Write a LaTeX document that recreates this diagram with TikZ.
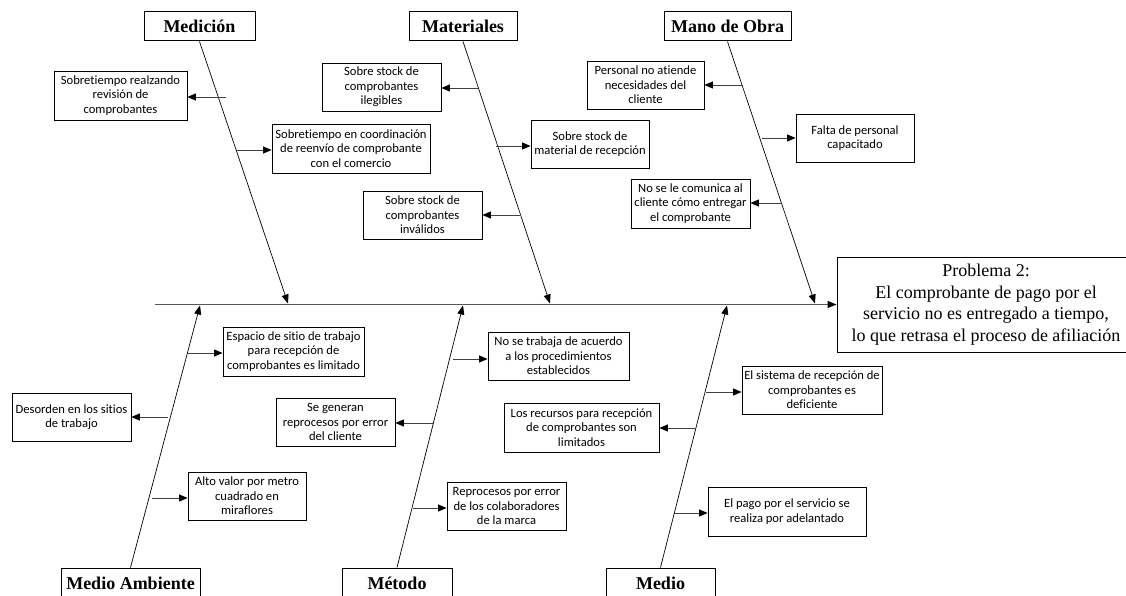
\documentclass[tikz,border=0pt]{standalone}
\usepackage{fontspec}
\setmainfont{Liberation Serif}
\newfontfamily\calfont[Ligatures=NoCommon]{Carlito}
\usetikzlibrary{arrows.meta}

\tikzset{
  cause/.style={draw, line width=0.8pt, inner sep=0pt, align=center,
    font=\calfont\fontsize{12.6}{14.5}\selectfont},
  category/.style={draw, line width=1pt, inner sep=0pt, align=center,
    font=\bfseries\fontsize{18}{20}\selectfont},
  effect/.style={draw, line width=1pt, inner sep=0pt, align=center,
    font=\fontsize{18}{21.5}\selectfont},
  bone/.style={line width=0.7pt, -{Triangle[length=9pt,width=7pt]}},
  spineline/.style={draw=black!65, line width=1.1pt, -{Triangle[length=9pt,width=7pt,color=black]}},
  twig/.style={draw=black!75, line width=0.9pt, -{Triangle[length=8.5pt,width=7pt,color=black]}},
}

% box node spanning the corners (x1,y1) and (x2,y2)
\newcommand\spanbox[7]{%
  \node[#1, minimum width={(#5-#3)*1pt}, minimum height={(#6-#4)*1pt}]
    (#2) at ({(#3+#5)/2},{(#4+#6)/2}) {#7};}

\begin{document}
\begin{tikzpicture}[x=1pt,y=-1pt]
\useasboundingbox (0,0) rectangle (1126,596);

% effect box (runs past the right edge of the page)
\spanbox{effect}{prob}{837}{257}{1135}{352}{Problema 2:\\El comprobante de pago por el\\servicio no es entregado a tiempo,\\ lo que retrasa el proceso de afiliación}

% spine
\coordinate (tail) at (155,304.5);
\draw[spineline] (tail) -- (tail -| prob.west);

% category boxes
\spanbox{category}{med1}{144}{12}{255}{41}{Medición}
\spanbox{category}{mat}{409}{12}{517}{41}{Materiales}
\spanbox{category}{mo}{664}{12}{791}{41}{Mano de Obra}
\spanbox{category}{amb}{61}{568}{200}{598}{\raisebox{-1pt}{Medio Ambiente}}
\spanbox{category}{met}{342}{568}{452}{598}{\raisebox{-1pt}{Método}}
\spanbox{category}{medio}{606}{568}{715}{598}{\raisebox{-1pt}{Medio}}

% points where the bones meet the spine
\coordinate (s1) at (288,303.5);
\coordinate (s2) at (550,303.5);
\coordinate (s3) at (815,303.5);
\coordinate (s4) at (200,305.5);
\coordinate (s5) at (463,305.5);
\coordinate (s6) at (727,305.5);

\draw[bone] (med1.south) -- (s1);
\draw[bone] (mat.south) -- (s2);
\draw[bone] (mo.south) -- (s3);
\draw[bone] (amb.north) -- (s4);
\draw[bone] (met.north) -- (s5);
\draw[bone] (medio.north) -- (s6);

% cause boxes
\spanbox{cause}{c1}{54}{71}{187}{120}{Sobretiempo realzando\\revisión de\\comprobantes}
\spanbox{cause}{c2}{272}{124}{430}{173}{Sobretiempo en coordinación\\de reenvío de comprobante\\con el comercio}
\spanbox{cause}{c3}{322}{63}{441}{111}{Sobre stock de\\comprobantes\\ilegibles}
\spanbox{cause}{c4}{531}{120}{649}{168}{Sobre stock de\\material de recepción}
\spanbox{cause}{c5}{363}{191}{482}{239}{Sobre stock de\\comprobantes\\inválidos}
\spanbox{cause}{c6}{587}{61}{704}{109}{Personal no atiende\\necesidades del\\cliente}
\spanbox{cause}{c7}{796}{114}{914}{162}{Falta de personal\\capacitado}
\spanbox{cause}{c8}{631}{179}{750}{228}{No se le comunica al\\cliente cómo entregar\\el comprobante}
\spanbox{cause}{c9}{223}{327}{364}{376}{Espacio de sitio de trabajo\\para recepción de\\comprobantes es limitado}
\spanbox{cause}{c10}{12}{393}{131}{441}{Desorden en los sitios\\de trabajo}
\spanbox{cause}{c11}{188}{472}{306}{520}{Alto valor por metro\\cuadrado en\\miraflores}
\spanbox{cause}{c12}{488}{332}{629}{380}{No se trabaja de acuerdo\\a los procedimientos\\establecidos}
\spanbox{cause}{c13}{276}{398}{395}{446}{Se generan\\reprocesos por error\\del cliente}
\spanbox{cause}{c14}{447}{482}{566}{530}{Reprocesos por error\\de los colaboradores\\de la marca}
\spanbox{cause}{c15}{742}{366}{882}{414}{El sistema de recepción de\\comprobantes es\\deficiente}
\spanbox{cause}{c16}{504}{403}{659}{452}{Los recursos para recepción\\de comprobantes son\\limitados}
\spanbox{cause}{c17}{708}{487}{866}{536}{El pago por el servicio se\\realiza por adelantado}

% twig roots on the bones
\coordinate (t1) at (226,97);
\coordinate (t2) at (237,150);
\coordinate (t3) at (478,88);
\coordinate (t4) at (496,146);
\coordinate (t5) at (520,215);
\coordinate (t6) at (743,85);
\coordinate (t7) at (762,138);
\coordinate (t8) at (782,203);
\coordinate (t9) at (188,353);
\coordinate (t10) at (168,417);
\coordinate (t11) at (152,498);
\coordinate (t12) at (453,359);
\coordinate (t13) at (433,423);
\coordinate (t14) at (413,508);
\coordinate (t15) at (706,392);
\coordinate (t16) at (695,428);
\coordinate (t17) at (674,513);

\draw[twig] (t1) -- (t1 -| c1.east);
\draw[twig] (t2) -- (t2 -| c2.west);
\draw[twig] (t3) -- (t3 -| c3.east);
\draw[twig] (t4) -- (t4 -| c4.west);
\draw[twig] (t5) -- (t5 -| c5.east);
\draw[twig] (t6) -- (t6 -| c6.east);
\draw[twig] (t7) -- (t7 -| c7.west);
\draw[twig] (t8) -- (t8 -| c8.east);
\draw[twig] (t9) -- (t9 -| c9.west);
\draw[twig] (t10) -- (t10 -| c10.east);
\draw[twig] (t11) -- (t11 -| c11.west);
\draw[twig] (t12) -- (t12 -| c12.west);
\draw[twig] (t13) -- (t13 -| c13.east);
\draw[twig] (t14) -- (t14 -| c14.west);
\draw[twig] (t15) -- (t15 -| c15.west);
\draw[twig] (t16) -- (t16 -| c16.east);
\draw[twig] (t17) -- (t17 -| c17.west);
\end{tikzpicture}
\end{document}
